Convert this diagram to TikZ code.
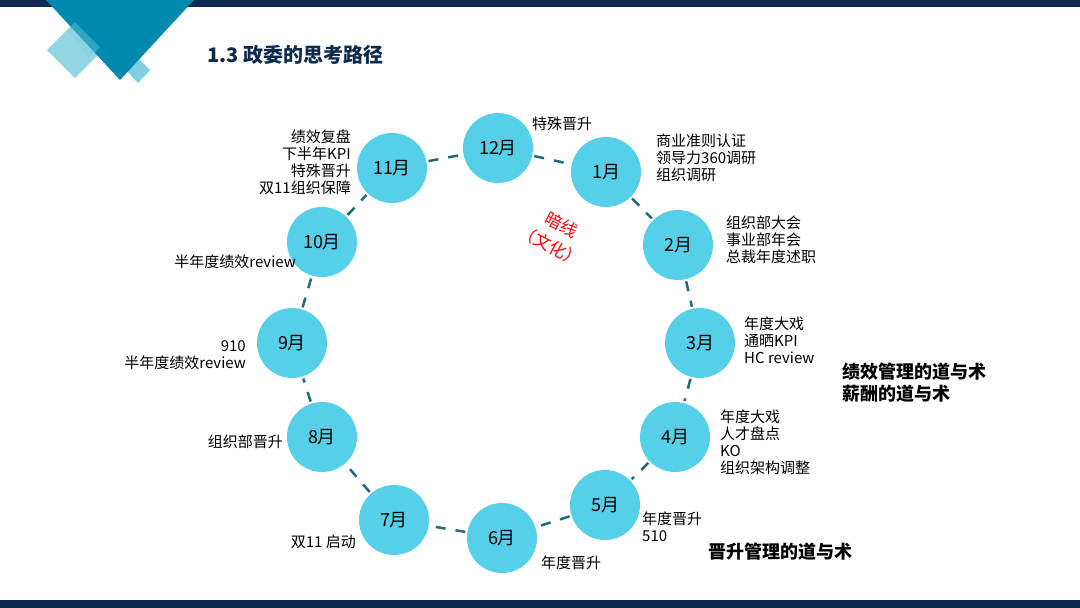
\documentclass[tikz,border=0pt]{standalone}
\usepackage{fontspec}
\setmainfont{Noto Sans CJK SC}
\usetikzlibrary{calc}
\definecolor{navy}{HTML}{0E2A4F}
\definecolor{teal1}{HTML}{0089AE}
\definecolor{lt}{HTML}{7FCFE0}
\definecolor{circ}{HTML}{55D0E8}
\definecolor{dashcol}{HTML}{1F6B7C}
\begin{document}
\begin{tikzpicture}[x=1pt,y=-1pt,
 mon/.style={circle,fill=circ,minimum size=70pt,inner sep=0pt,font=\fontsize{18}{20}\selectfont},
 lbl/.style={font=\fontsize{15}{17}\selectfont,align=left,inner sep=0pt},
 con/.style={draw=dashcol,line width=2.5pt,dash pattern=on 10pt off 10pt}]
\useasboundingbox (0,0) rectangle (1080,608);
\fill[white] (0,0) rectangle (1080,608);
\fill[navy] (0,0) rectangle (1080,7);
\fill[navy] (0,600) rectangle (1080,608);
\fill[lt,opacity=0.85] (75,22) -- (103,50) -- (75,78) -- (47,50) -- cycle;
\fill[lt] (138,58) -- (150,70) -- (138,83) -- (126,70) -- cycle;
\fill[teal1] (46,0) -- (194,0) -- (120,80) -- cycle;
\fill[lt,opacity=0.4] (75,22) -- (100,47) -- (89,58) -- (67,30) -- cycle;
\node[anchor=west,font=\bfseries\fontsize{20}{22}\selectfont,text=navy] (t) at (204,55) {1.3 政委的思考路径};
\node[mon] (m12) at (498,148) {12月};
\node[mon] (m1) at (606,172) {1月};
\node[mon] (m2) at (678,245) {2月};
\node[mon] (m3) at (700,343) {3月};
\node[mon] (m4) at (675,437) {4月};
\node[mon] (m5) at (605,505) {5月};
\node[mon] (m6) at (502,538) {6月};
\node[mon] (m7) at (394,520) {7月};
\node[mon] (m8) at (322,437) {8月};
\node[mon] (m9) at (292,343) {9月};
\node[mon] (m10) at (322,242) {10月};
\node[mon] (m11) at (392,168) {11月};
\foreach \a/\b in {m12/m1,m1/m2,m2/m3,m3/m4,m4/m5,m5/m6,m6/m7,m7/m8,m8/m9,m9/m10,m10/m11,m11/m12}
  \draw[con,shorten <=2pt,shorten >=2pt] (\a) -- (\b);
\node[lbl,anchor=west] (l12) at (532,124) {特殊晋升};
\node[lbl,anchor=west] (l1) at (656,158) {商业准则认证\\领导力360调研\\组织调研};
\node[lbl,anchor=west] (l2) at (726,240) {组织部大会\\事业部年会\\总裁年度述职};
\node[lbl,anchor=west] (l3) at (744,340) {年度大戏\\通晒KPI\\HC review};
\node[lbl,anchor=west] (l4) at (720,442) {年度大戏\\人才盘点\\KO\\组织架构调整};
\node[lbl,anchor=west] (l5) at (642,527) {年度晋升\\510};
\node[lbl,anchor=west] (l6) at (541,563) {年度晋升};
\node[lbl,anchor=east] (l7) at (356,542) {双11 启动};
\node[lbl,anchor=east] (l8) at (283,442) {组织部晋升};
\node[lbl,anchor=east,align=right] (l9) at (246,355) {910\\半年度绩效review};
\node[lbl,anchor=east] (l10) at (296,262) {半年度绩效review};
\node[lbl,anchor=east,align=right] (l11) at (351,162) {绩效复盘\\下半年KPI\\特殊晋升\\双11组织保障};
\node[lbl,anchor=west,font=\bfseries\fontsize{18}{22}\selectfont] (r1) at (842,383) {绩效管理的道与术\\薪酬的道与术};
\node[lbl,anchor=west,font=\bfseries\fontsize{18}{22}\selectfont] (r2) at (708,552) {晋升管理的道与术};
\node[text=red,rotate=-28,font=\fontsize{17}{24}\selectfont,align=center,inner sep=0pt] (dx) at (556,235) {暗线\\（文化）};
\end{tikzpicture}
\end{document}
